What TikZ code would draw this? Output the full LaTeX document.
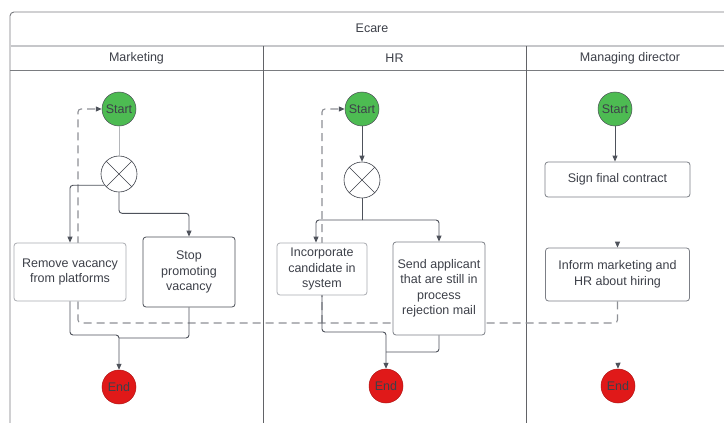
\documentclass[tikz,border=0pt]{standalone}
\usepackage{fontspec}
\setmainfont{Liberation Sans}
\usetikzlibrary{arrows.meta}
\definecolor{ink}{HTML}{3D4049}
\definecolor{wire}{HTML}{4E525B}
\definecolor{lightwire}{HTML}{B4B6BA}
\definecolor{framegray}{HTML}{7A7C80}
\definecolor{bandgray}{HTML}{C6C7CA}
\definecolor{dashgray}{HTML}{8E9096}
\definecolor{boxlight}{HTML}{A9ABB0}
\definecolor{boxmid}{HTML}{7C7F86}
\definecolor{boxdark}{HTML}{4A4E56}
\definecolor{startgreen}{HTML}{4DBB52}
\definecolor{endred}{HTML}{E01919}
\pgfdeclarelayer{bg}
\pgfsetlayers{bg,main}
\begin{document}
\begin{tikzpicture}[x=1pt,y=-1pt,
  font=\fontsize{12.5}{15.5}\selectfont,
  head/.style={Triangle[length=6pt,width=5pt,color=wire]},
  wire/.style={draw=wire,line width=0.9pt,rounded corners=3pt},
  flow/.style={wire,-{Triangle[length=6pt,width=5pt]}},
  ghost/.style={draw=white,line width=0.9pt,-{Triangle[length=6pt,width=5pt,color=wire]}},
  dashflow/.style={draw=dashgray,line width=1.1pt,dash pattern=on 8pt off 5pt,
    rounded corners=3pt,-{Triangle[length=6pt,width=5pt,color=wire]}},
  actbox/.style={draw,line width=0.8pt,rounded corners=3pt,fill=white,align=center,
    text=ink,inner sep=2pt},
  startnode/.style={circle,fill=startgreen,draw=boxdark,line width=0.5pt,
    minimum size=34pt,inner sep=0pt,text=ink},
  endnode/.style={circle,fill=endred,draw=endred!80!black,line width=0.5pt,
    minimum size=34pt,inner sep=0pt,text=ink},
  gate/.style={circle,draw=ink,line width=0.6pt,fill=white,minimum size=36pt,inner sep=0pt,
    path picture={\draw[ink,line width=0.6pt]
      (path picture bounding box.north west) -- (path picture bounding box.south east)
      (path picture bounding box.north east) -- (path picture bounding box.south west);}},
  lanetitle/.style={text=ink}
]
\useasboundingbox (0,0) rectangle (724,423);
\clip (0,0) rectangle (724,423);

% pool frame, title band and lanes
\begin{pgfonlayer}{bg}
\fill[white] (0,0) rectangle (724,423);
\draw[framegray,line width=0.9pt,rounded corners=4pt] (10,12) rectangle (734,440);
\draw[bandgray,line width=1.6pt] (10.5,46) -- (733.5,46);
\draw[framegray,line width=0.8pt] (10,70) -- (734,70);
\draw[framegray!80!black,line width=0.8pt] (263,46) -- (263,440);
\draw[framegray!80!black,line width=0.8pt] (526,46) -- (526,440);
\end{pgfonlayer}

\node[lanetitle] (pool) at (372,28) {Ecare};
\node[lanetitle] (lmk) at (136.5,58) {Marketing};
\node[lanetitle] (lhr) at (394.5,58) {HR};
\node[lanetitle] (lmd) at (630,58) {Managing director};

% Marketing lane
\node[startnode] (ms) at (119,109) {Start};
\node[gate] (mg) at (119,174) {};
\node[actbox,draw=boxlight,minimum width=112pt,minimum height=58pt] (rv) at (70,272)
  {Remove vacancy\\from platforms};
\node[actbox,draw=boxdark,minimum width=92pt,minimum height=70pt] (sp) at (189,272)
  {Stop\\promoting\\vacancy};
\node[endnode] (me) at (119,387) {End};

% HR lane
\node[startnode] (hs) at (362,109) {Start};
\node[gate] (hg) at (362,180) {};
\node[actbox,draw=boxlight,minimum width=90pt,minimum height=52pt] (ic) at (322,269)
  {Incorporate\\candidate in\\system};
\node[actbox,draw=boxmid,minimum width=92pt,minimum height=93pt] (sd) at (439,288.5)
  {Send applicant\\that are still in\\process\\rejection mail};
\node[endnode] (he) at (386,386) {End};

% Managing director lane
\node[startnode] (ds) at (615,109) {Start};
\node[actbox,draw=boxmid,minimum width=145pt,minimum height=35pt] (sg) at (617.5,179.5)
  {Sign final contract};
\node[actbox,draw=boxmid,minimum width=144pt,minimum height=53pt] (inf) at (617.5,274.5)
  {Inform marketing and\\HR about hiring};
\node[endnode] (de) at (618,386) {End};

% junction points
\coordinate (mjl) at (119,335);
\coordinate (mjr) at (119,338);
\coordinate (hsp) at (362,220);
\coordinate (hjl) at (386,332);
\coordinate (hjr) at (386,352);
\coordinate (dm) at (78,323);
\coordinate (dh) at (322,323);

% message flow back to the lane starts (behind the activities)
\begin{pgfonlayer}{bg}
\draw[ghost] (sg.south) -- (inf.north);
\draw[ghost] (inf.south) -- (de.north);
\draw[dashflow] (inf.south) |- (dm) |- (ms.west);
\draw[dashflow] (dh) |- (hs.west);
\end{pgfonlayer}

% Marketing flow
\draw[wire,draw=lightwire] (ms) -- (mg);
\draw[flow] (mg.218) -| (rv.north);
\draw[flow] (mg.south) -- ++(0,21) -| (sp.north);
\draw[flow] (rv.south) |- (mjl) -- (me.north);
\draw[wire] (sp.south) |- (mjr);

% HR flow
\draw[flow] (hs) -- (hg);
\draw[wire] (hg.south) -- (hsp);
\draw[flow] (hsp) -| ([xshift=-6pt]ic.north);
\draw[flow] (hsp) -| (sd.north);
\draw[flow] (ic.south) |- (hjl) -- (he.north);
\draw[wire] (sd.south) |- (hjr);

% Managing director flow
\draw[flow] (ds.south) -- (ds.south |- sg.north);
\end{tikzpicture}
\end{document}
